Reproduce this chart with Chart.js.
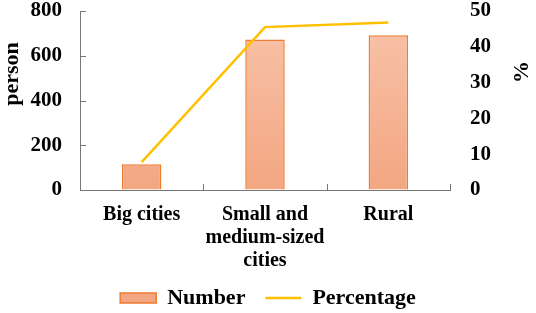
<!DOCTYPE html>
<html><head><meta charset="utf-8">
<script src="https://cdn.jsdelivr.net/npm/chart.js@4.4.0/dist/chart.umd.min.js"></script>
<style>html,body{margin:0;padding:0;background:#fff;overflow:hidden}#wrap{width:536px;height:313px;position:relative}</style>
</head><body><div id="wrap"><canvas id="c"></canvas></div>
<script>
const categories = [['Big cities'], ['Small and', 'medium-sized', 'cities'], ['Rural']];
const numberValues = [115, 673, 692];
const percentValues = [7.8, 45.5, 46.8];
const leftTitle = 'person';
const rightTitle = '%';
const seriesNames = ['Number', 'Percentage'];

const FONT = "'Liberation Serif', 'Times New Roman', serif";
const AXIS = '#767676';

const extras = {
  id: 'extras',
  afterDraw(chart) {
    const ctx = chart.ctx, a = chart.chartArea;
    const y = chart.scales.y, x = chart.scales.x;
    ctx.save();
    ctx.strokeStyle = AXIS; ctx.lineWidth = 1;
    ctx.beginPath();
    y.ticks.forEach((t, i) => {
      const py = Math.round(y.getPixelForTick(i)) + 0.5;
      ctx.moveTo(a.left, py); ctx.lineTo(a.left + 6, py);
    });
    const n = x.ticks.length;
    const half = (x.getPixelForValue(1) - x.getPixelForValue(0)) / 2;
    for (let i = 0; i < n; i++) {
      const px = Math.round(x.getPixelForValue(i) + half) + 0.5;
      ctx.moveTo(px, a.bottom); ctx.lineTo(px, a.bottom - 6);
    }
    ctx.stroke();
    ctx.fillStyle = '#000';
    ctx.font = 'bold 22px ' + FONT;
    ctx.textAlign = 'center'; ctx.textBaseline = 'middle';
    ctx.translate(12, 74); ctx.rotate(-Math.PI / 2);
    ctx.fillText(leftTitle, 0, 0);
    ctx.restore();
    ctx.save();
    ctx.fillStyle = '#000';
    ctx.font = 'bold 22px ' + FONT;
    ctx.textAlign = 'center'; ctx.textBaseline = 'middle';
    ctx.translate(522, 72); ctx.rotate(-Math.PI / 2);
    ctx.fillText(rightTitle, 0, 0);
    ctx.restore();
  }
};

function barFill(context) {
  const chart = context.chart, a = chart.chartArea;
  if (!a) return '#F5B393';
  const g = chart.ctx.createLinearGradient(0, a.top, 0, a.bottom);
  g.addColorStop(0, '#F8C4AA');
  g.addColorStop(1, '#F3A682');
  return g;
}

const hiddenTicks = (len) => ({ display: true, drawOnChartArea: false, drawTicks: true, tickLength: len, color: 'rgba(0,0,0,0)', tickColor: 'rgba(0,0,0,0)' });

new Chart(document.getElementById('c'), {
  data: {
    labels: categories,
    datasets: [
      { type: 'line', label: seriesNames[1], data: percentValues, yAxisID: 'y1',
        borderColor: '#FFC000', backgroundColor: '#FFC000', borderWidth: 2.5,
        pointRadius: 0, tension: 0, order: 0, pointStyle: 'line' },
      { type: 'bar', label: seriesNames[0], data: numberValues, yAxisID: 'y',
        backgroundColor: barFill, borderColor: '#F07A2E', borderWidth: 1.5,
        categoryPercentage: 1, barPercentage: 0.32, order: 1, pointStyle: 'rect' }
    ]
  },
  options: {
    responsive: true, maintainAspectRatio: false, animation: false,
    layout: { padding: { top: 11, left: 0, right: 0, bottom: -6 } },
    plugins: {
      tooltip: { enabled: false },
      legend: {
        position: 'bottom', reverse: true,
        labels: {
          usePointStyle: true, pointStyleWidth: 36, boxHeight: 10,
          color: '#000', font: { family: FONT, size: 22, weight: 'bold' }, padding: 20
        }
      }
    },
    scales: {
      x: {
        grid: { display: false, drawTicks: false },
        border: { display: true, color: AXIS, width: 1 },
        ticks: { color: '#000', font: { family: FONT, size: 20, weight: 'bold', lineHeight: 1.15 }, padding: 13, maxRotation: 0, autoSkip: false },
        afterFit(s) { s.height = 77; }
      },
      y: {
        position: 'left', min: 0, max: 800,
        grid: hiddenTicks(18),
        border: { display: true, color: AXIS, width: 1 },
        ticks: { stepSize: 200, color: '#000', font: { family: FONT, size: 21, weight: 'bold', lineHeight: 1 }, padding: 0 },
        afterFit(s) { s.width = 80; }
      },
      y1: {
        position: 'right', min: 0, max: 50,
        grid: hiddenTicks(20),
        border: { display: false },
        ticks: { stepSize: 10, color: '#000', font: { family: FONT, size: 21, weight: 'bold', lineHeight: 1 }, padding: 0 },
        afterFit(s) { s.width = 86; }
      }
    }
  },
  plugins: [extras]
});
</script></body></html>
